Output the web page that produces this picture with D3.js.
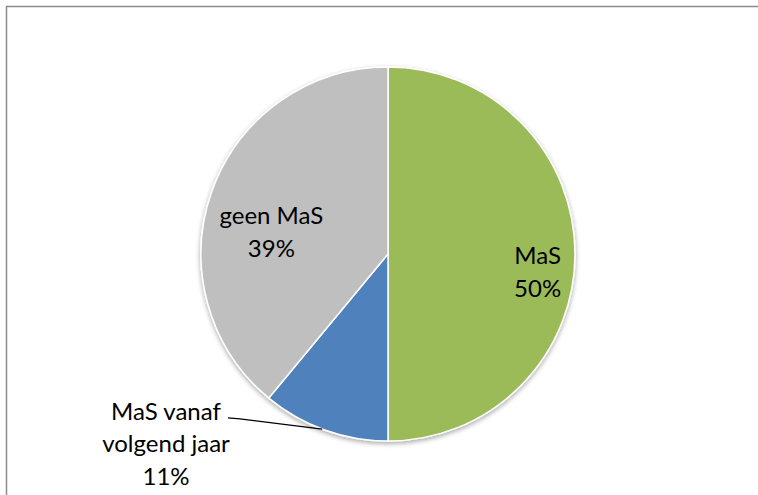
<!DOCTYPE html>
<html>
<head>
<meta charset="utf-8">
<script src="https://cdn.jsdelivr.net/npm/d3@7"></script>
<style>
  body { margin: 0; background: #fff; }
  svg { display: block; }
  text { font-family: Lato, "Open Sans", sans-serif; fill: #000; }
</style>
</head>
<body>
<svg id="chart"></svg>
<script>
// ---- DATA ----
const categories = ['MaS', 'MaS vanaf volgend jaar', 'geen MaS'];
const shares = [50, 11, 39];
const labelLines = [['MaS', '50%'], ['MaS vanaf', 'volgend jaar', '11%'], ['geen MaS', '39%']];
const colors = ['#9BBB59', '#4F81BD', '#BFBFBF'];

const width = 758, height = 495;
const cx = 388, cy = 254, radius = 187;
const fontSize = 24, lineHeight = 32.5;

const svg = d3.select('#chart')
    .attr('width', width)
    .attr('height', height);

// chart area frame (only top and left edge are visible in the picture)
svg.append('rect')
    .attr('x', 6.5)
    .attr('y', 6.5)
    .attr('width', width + 20)
    .attr('height', height + 20)
    .attr('fill', 'none')
    .attr('stroke', '#8c8c8c')
    .attr('stroke-width', 1.5);

// soft shadow like the Excel pie
const defs = svg.append('defs');
const shadow = defs.append('filter')
    .attr('id', 'shadow')
    .attr('x', '-10%').attr('y', '-10%')
    .attr('width', '120%').attr('height', '120%');
shadow.append('feGaussianBlur').attr('in', 'SourceAlpha').attr('stdDeviation', 2.5);
shadow.append('feOffset').attr('dx', 0).attr('dy', 2).attr('result', 'blur');
shadow.append('feComponentTransfer').append('feFuncA').attr('type', 'linear').attr('slope', 0.35);
const merge = shadow.append('feMerge');
merge.append('feMergeNode');
merge.append('feMergeNode').attr('in', 'SourceGraphic');

const data = categories.map((c, i) => ({ category: c, value: shares[i], lines: labelLines[i], color: colors[i] }));

const pie = d3.pie()
    .sort(null)
    .value(d => d.value);

const arc = d3.arc()
    .innerRadius(0)
    .outerRadius(radius);

const arcs = pie(data);

const chart = svg.append('g')
    .attr('transform', `translate(${cx}, ${cy})`);

chart.append('g')
    .attr('filter', 'url(#shadow)')
  .selectAll('path')
  .data(arcs)
  .join('path')
    .attr('d', arc)
    .attr('fill', d => d.data.color)
    .attr('stroke', '#fff')
    .attr('stroke-width', 1.5)
    .attr('stroke-linejoin', 'round');

// ---- LABELS ----
// label anchor: polar position (radius factor) plus a small nudge, per slice
const labelPlacement = [
  { r: 0.80, dx: 0, dy: 18, outside: false },
  { r: 1.00, dx: -222, dy: 190, outside: true },
  { r: 0.68, dx: 3, dy: 21, outside: false }
];

arcs.forEach((a, i) => {
  const p = labelPlacement[i];
  const mid = (a.startAngle + a.endAngle) / 2;
  let x, y;
  if (p.outside) {
    x = p.dx;
    y = p.dy;
  } else {
    x = Math.sin(mid) * radius * p.r + p.dx;
    y = -Math.cos(mid) * radius * p.r + p.dy;
  }
  const n = a.data.lines.length;
  const text = chart.append('text')
      .attr('text-anchor', 'middle')
      .attr('font-size', fontSize);
  a.data.lines.forEach((line, k) => {
    text.append('tspan')
        .attr('x', x)
        .attr('y', y + (k - (n - 1) / 2) * lineHeight + fontSize * 0.35)
        .text(line);
  });

  if (p.outside) {
    // leader line from end of first label line to the slice edge
    const firstY = y - (n - 1) / 2 * lineHeight + fontSize * 0.35 - 2;
    const edgeAngle = a.startAngle + (a.endAngle - a.startAngle) * 0.52;
    const ex = Math.sin(edgeAngle) * radius;
    const ey = -Math.cos(edgeAngle) * radius;
    const sx = x + 62;
    chart.append('path')
        .attr('d', `M${sx},${firstY}L${sx + 12},${firstY + 1}L${ex},${ey}`)
        .attr('fill', 'none')
        .attr('stroke', '#000')
        .attr('stroke-width', 1.2);
  }
});
</script>
</body>
</html>
